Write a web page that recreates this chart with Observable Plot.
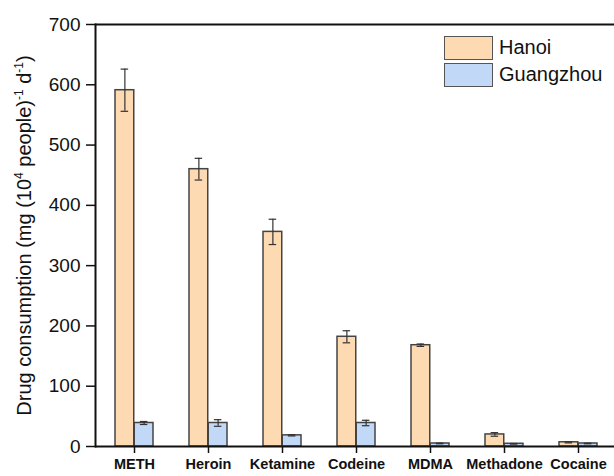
<!DOCTYPE html>
<html>
<head>
<meta charset="utf-8">
<script src="https://cdn.jsdelivr.net/npm/d3@7"></script>
<script src="https://cdn.jsdelivr.net/npm/@observablehq/plot@0.6"></script>
<style>
  html, body { margin: 0; padding: 0; background: #fff; }
  #wrap { position: relative; width: 614px; height: 476px; overflow: hidden; font-family: "Liberation Sans", Arial, sans-serif; }
  #legend { position: absolute; left: 444px; top: 34px; font-size: 20px; color: #111; white-space: nowrap; }
  .item { display: flex; align-items: center; height: 27px; }
  .sw { width: 47px; height: 22px; border: 1.5px solid #555; margin-right: 6px; box-sizing: content-box; }
</style>
</head>
<body>
<div id="wrap"><div id="legend"></div></div>
<script>
const drugs = ["METH", "Heroin", "Ketamine", "Codeine", "MDMA", "Methadone", "Cocaine"];
const cities = ["Hanoi", "Guangzhou"];
const hanoi = [591, 460, 356, 182, 168, 20, 7];
const hanoiErr = [35, 18, 21, 10, 2, 3, 1];
const guangzhou = [39, 39, 18.5, 39, 5, 4.5, 5];
const guangzhouErr = [2.5, 5.5, 1, 4.5, 0.5, 0.5, 0.5];
const colors = ["#FDDAB2", "#C2D8F7"];
const yTicks = [0, 100, 200, 300, 400, 500, 600, 700];
const yLabel = "Drug consumption (mg (10⁴ people)⁻¹ d⁻¹)";
// label pieces: [text, superscript?]
const yLabelParts = [["Drug consumption (mg (10", false], ["4", true], [" people)", false], ["-1", true], [" d", false], ["-1", true], [")", false]];

const data = [];
drugs.forEach((d, i) => {
  data.push({drug: d, city: "Hanoi", value: hanoi[i], lo: hanoi[i] - hanoiErr[i], hi: hanoi[i] + hanoiErr[i]});
  data.push({drug: d, city: "Guangzhou", value: guangzhou[i], lo: guangzhou[i] - guangzhouErr[i], hi: guangzhou[i] + guangzhouErr[i]});
});
const H = data.filter(d => d.city === "Hanoi");
const G = data.filter(d => d.city === "Guangzhou");

const width = 614, height = 476, mL = 95, mR = 0;
const pInner = 0.486, pOuter = 0.2076, align = 0.55;
const bw = d3.scaleBand(drugs, [mL, width - mR]).paddingInner(pInner).paddingOuter(pOuter).align(align).bandwidth();
const half = bw / 2, q = bw / 4, cap = 4;
const ink = "#111";

const plot = Plot.plot({
  width, height,
  marginLeft: mL, marginRight: mR, marginTop: 24, marginBottom: 30,
  style: {fontFamily: "'Liberation Sans', Arial, sans-serif", background: "transparent", color: ink},
  x: {domain: drugs, paddingInner: pInner, paddingOuter: pOuter, align},
  y: {domain: [0, 700]},
  color: {domain: cities, range: colors},
  marks: [
    Plot.axisX({tickSize: 7, tickPadding: 5, fontSize: 14.5, fontWeight: "bold", label: null, strokeWidth: 1.5}),
    Plot.axisY({ticks: yTicks, tickSize: 9, tickPadding: 6, fontSize: 19, label: null, strokeWidth: 1.5}),
    Plot.axisY({ticks: [], tickSize: 0, label: yLabel, labelAnchor: "center", labelOffset: 79, labelArrow: "none", fontSize: 20, dx: -6}),
    Plot.barY(H, {x: "drug", y: "value", fill: "city", stroke: "#444", strokeWidth: 1.5, insetRight: half}),
    Plot.barY(G, {x: "drug", y: "value", fill: "city", stroke: "#444", strokeWidth: 1.5, insetLeft: half}),
    Plot.ruleX(H, {x: "drug", y1: "lo", y2: "hi", dx: -q, stroke: "#333", strokeWidth: 1.2}),
    Plot.ruleX(G, {x: "drug", y1: "lo", y2: "hi", dx: q, stroke: "#333", strokeWidth: 1.2}),
    Plot.tickY(H, {x: "drug", y: "lo", stroke: "#333", strokeWidth: 1.2, insetLeft: q - cap, insetRight: half + q - cap}),
    Plot.tickY(H, {x: "drug", y: "hi", stroke: "#333", strokeWidth: 1.2, insetLeft: q - cap, insetRight: half + q - cap}),
    Plot.tickY(G, {x: "drug", y: "lo", stroke: "#333", strokeWidth: 1.2, insetLeft: half + q - cap, insetRight: q - cap}),
    Plot.tickY(G, {x: "drug", y: "hi", stroke: "#333", strokeWidth: 1.2, insetLeft: half + q - cap, insetRight: q - cap}),
    Plot.ruleY([0], {stroke: ink, strokeWidth: 2}),
    Plot.ruleY([700], {stroke: ink, strokeWidth: 2}),
    Plot.frame({anchor: "left", stroke: ink, strokeWidth: 2})
  ]
});

// rebuild the y-axis label with real superscripts
d3.select(plot).selectAll("text").filter(function() { return this.textContent === yLabel; }).each(function() {
  const t = d3.select(this);
  t.text(null);
  let raised = false;
  yLabelParts.forEach(([s, sup]) => {
    const sp = t.append("tspan").text(s);
    if (sup && !raised) { sp.attr("dy", -8).style("font-size", "12px"); raised = true; }
    else if (sup) { sp.style("font-size", "12px"); }
    else if (raised) { sp.attr("dy", 8); raised = false; }
  });
});

document.getElementById("wrap").prepend(plot);
const legend = d3.select("#legend");
cities.forEach((c, i) => {
  const it = legend.append("div").attr("class", "item");
  it.append("div").attr("class", "sw").style("background", colors[i]);
  it.append("span").text(c);
});
</script>
</body>
</html>
